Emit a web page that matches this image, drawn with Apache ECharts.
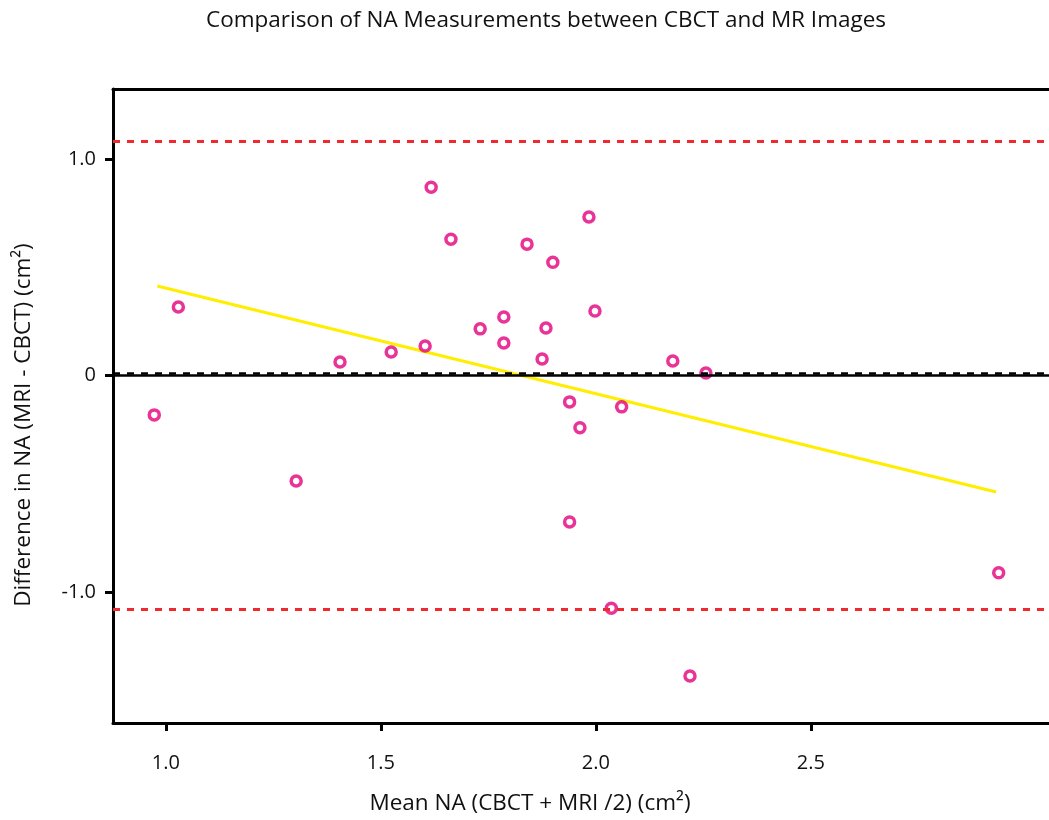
<!DOCTYPE html>
<html>
<head>
<meta charset="utf-8">
<title>NA Bland-Altman</title>
<script src="https://cdn.jsdelivr.net/npm/echarts@6/dist/echarts.min.js"></script>
<style>
  html, body { margin: 0; padding: 0; background: #fff; }
  #chart { width: 1049px; height: 820px; }
</style>
</head>
<body>
<div id="chart"></div>
<script>
// mean of the two measurements (x) and their difference (y)
const meanNA = [0.973, 1.029, 1.303, 1.405, 1.524, 1.603, 1.617, 1.663, 1.731, 1.786,
                1.786, 1.840, 1.875, 1.884, 1.900, 1.984, 1.998, 2.179, 2.256, 1.939,
                2.060, 1.963, 1.939, 2.036, 2.219, 2.937];
const diffNA = [-0.181, 0.317, -0.486, 0.063, 0.109, 0.137, 0.870, 0.630, 0.216, 0.271,
                0.151, 0.607, 0.077, 0.220, 0.523, 0.732, 0.298, 0.068, 0.012, -0.121,
                -0.144, -0.240, -0.675, -1.073, -1.386, -0.910];

// regression line end points
const trendX = [0.980, 2.931];
const trendY = [0.414, -0.537];

// limits of agreement and mean difference
const upperLoA = 1.076;
const lowerLoA = -1.077;
const meanDiff = 0.012;

const xTicks = [1.0, 1.5, 2.0, 2.5];
const yTicks = [-1.0, 0, 1.0];

const font = '"Open Sans", "Noto Sans", sans-serif';

let chart = echarts.init(document.getElementById('chart'));

let option = {
    backgroundColor: '#fff',
    animation: false,
    title: {
        text: 'Comparison of NA Measurements between CBCT and MR Images',
        left: 541,
        textAlign: 'center',
        top: 4,
        textStyle: { fontFamily: font, fontWeight: 'normal', fontSize: 22.5, color: '#111' }
    },
    grid: { left: 113, top: 89, right: 0, bottom: 97 },
    xAxis: [{
        type: 'value',
        min: 0.877,
        max: 3.054,
        name: 'Mean NA (CBCT + MRI /2) (cm²)',
        nameLocation: 'middle',
        nameGap: 69,
        nameTextStyle: { fontFamily: font, fontSize: 22.5, color: '#111', padding: [0, 102, 0, 0] },
        axisLine: { show: true, onZero: false, lineStyle: { color: '#000', width: 3 } },
        axisTick: { show: true, length: 8, customValues: xTicks, lineStyle: { color: '#000', width: 3 } },
        axisLabel: {
            customValues: xTicks, margin: 30, fontFamily: font, fontSize: 20, color: '#111',
            formatter: v => v.toFixed(1)
        },
        splitLine: { show: false }
    }, {
        type: 'value',
        position: 'top',
        min: 0.877,
        max: 3.054,
        axisLine: { show: true, onZero: false, lineStyle: { color: '#000', width: 3 } },
        axisTick: { show: false },
        axisLabel: { show: false },
        splitLine: { show: false }
    }],
    yAxis: {
        type: 'value',
        min: -1.603,
        max: 1.323,
        name: 'Difference in NA (MRI - CBCT) (cm²)',
        nameLocation: 'middle',
        nameGap: 78,
        nameTextStyle: { fontFamily: font, fontSize: 22.5, color: '#111', padding: [0, 38, 0, 0] },
        axisLine: { show: true, onZero: false, lineStyle: { color: '#000', width: 3 } },
        axisTick: { show: true, length: 8, customValues: yTicks, lineStyle: { color: '#000', width: 3 } },
        axisLabel: {
            customValues: yTicks, margin: 17, fontFamily: font, fontSize: 20, color: '#111',
            formatter: v => (v === 0 ? '0' : v.toFixed(1))
        },
        splitLine: { show: false }
    },
    series: [{
        type: 'line',
        data: trendX.map((x, i) => [x, trendY[i]]),
        showSymbol: false,
        lineStyle: { color: '#ffee00', width: 3 },
        z: 3,
        markLine: {
            silent: true,
            symbol: 'none',
            label: { show: false },
            data: [
                { yAxis: 0, lineStyle: { color: '#000', width: 2.5, type: 'solid' } },
                { yAxis: meanDiff, lineStyle: { color: '#000', width: 2.5, type: [7, 7] } },
                { yAxis: upperLoA, lineStyle: { color: '#ee2a30', width: 3, type: [7, 7] } },
                { yAxis: lowerLoA, lineStyle: { color: '#ee2a30', width: 3, type: [7, 7] } }
            ]
        }
    }, {
        type: 'scatter',
        data: meanNA.map((x, i) => [x, diffNA[i]]),
        symbol: 'circle',
        symbolSize: 10,
        itemStyle: { color: '#fff', borderColor: '#e4007c', borderWidth: 3.5 },
        z: 4
    }]
};

chart.setOption(option);
</script>
</body>
</html>
